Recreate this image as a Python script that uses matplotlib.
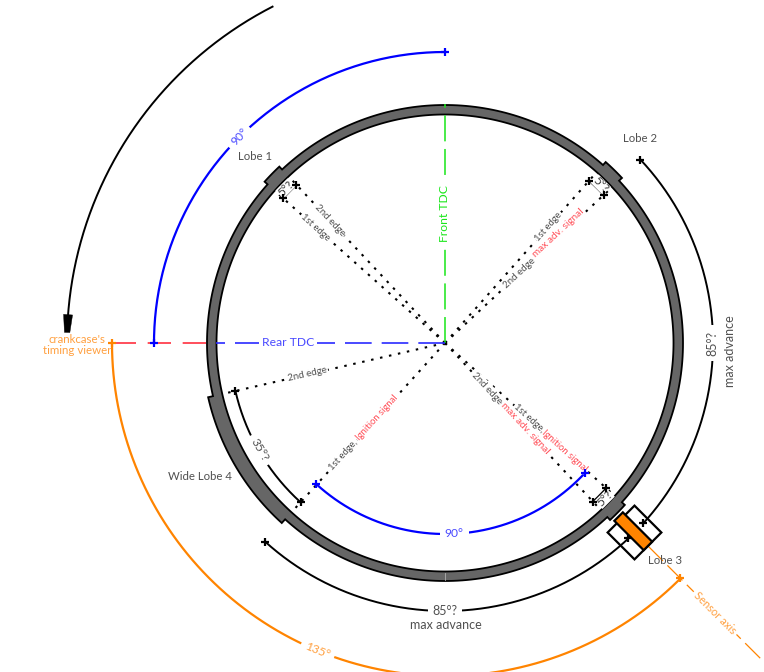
import numpy as np
import matplotlib
matplotlib.use("Agg")
import matplotlib.pyplot as plt
from matplotlib.patches import Polygon

plt.rcParams['font.family'] = ['Lato', 'DejaVu Sans']

# angles in degrees (0 = east, counter clockwise), radii in pixels
lobe1_edges = [133.2, 138.2]
lobe2_edges = [43.0, 48.4]
lobe3_edges = [-47.0, -42.0]
lobe4_edges = [192.9, 227.8]
ring_outer = 238
ring_inner = 228.5
lobe_top = [242, 242, 242, 243]

advance_arcs = [(43.2, -42.3), (227.9, 313.2)]
rotor_90 = (90, 180)
signal_90 = (227.7, 317.1)
viewer_135 = (180, 315)
arrow_arc = (117, 176)

GRAY = '#505050'
BLUE_T = '#4a4aff'
RED = '#ff4f58'
ORANGE = '#ff8400'
ORANGE_T = '#ffa040'
GREEN = '#19e619'
TEXT = 8.7

fig = plt.figure(figsize=(7.64, 6.72), dpi=100)
ax = fig.add_axes([0, 0, 1, 1])
ax.set_xlim(0, 764)
ax.set_ylim(672, 0)
ax.axis('off')

cx, cy = 445, 343


def pol(angle, r):
    a = np.radians(angle)
    return cx + r * np.cos(a), cy - r * np.sin(a)


def arc(a0, a1, r, color='black', lw=1.5, z=3):
    t = np.linspace(a0, a1, 200)
    x, y = pol(t, r)
    ax.plot(x, y, color=color, lw=lw, zorder=z, solid_capstyle='butt')


def ray(angle, r0, r1, color, lw, dash, z=2):
    x, y = pol(np.array([angle, angle]), np.array([r0, r1]))
    ax.plot(x, y, color=color, lw=lw, ls=(0, dash), zorder=z)


def mark(angle, r, color='black'):
    x, y = pol(angle, r)
    ax.plot([x], [y], marker='+', ms=5.5, mew=1.6, color=color, zorder=6)


def label(angle, r, s, color=GRAY, rot=0, size=TEXT, pad=0.25, box=True):
    x, y = pol(angle, r)
    kw = dict(rotation=rot, rotation_mode='anchor', fontsize=size, ha='center', va='center')
    if box:
        # white gap goes below every text so neighbours do not cut each other
        ax.text(x, y, s, color='none', zorder=4,
                bbox=dict(boxstyle='square,pad=%s' % pad, fc='white', ec='none'), **kw)
    ax.text(x, y, s, color=color, zorder=5, **kw)


# ring with the lobes standing out of it
segs = [(lobe2_edges, lobe_top[1]), (lobe1_edges, lobe_top[0]), (lobe4_edges, lobe_top[3]),
        ([a + 360 for a in lobe3_edges], lobe_top[2])]
outline_t = []
outline_r = []
prev = lobe3_edges[1]
for edges, top in segs:
    t = np.linspace(prev, edges[0], 80)
    outline_t += list(t)
    outline_r += [ring_outer] * 80
    t = np.linspace(edges[0], edges[1], 30)
    outline_t += list(t)
    outline_r += [top] * 30
    prev = edges[1]
ox, oy = pol(np.array(outline_t), np.array(outline_r))
ax.add_patch(Polygon(np.column_stack([ox, oy]), closed=True, fc='#666666', ec='black', lw=1.3, zorder=1))
t = np.linspace(0, 360, 400)
ix, iy = pol(t, ring_inner)
ax.add_patch(Polygon(np.column_stack([ix, iy]), closed=True, fc='white', ec='black', lw=1.3, zorder=1.1))
x, y = pol(np.array([270, 270]), np.array([ring_inner + 1, ring_outer - 1]))
ax.plot(x, y, color='#b0b0b0', lw=0.6, zorder=1.2)

# dotted edge lines from the centre
for a in lobe1_edges + lobe2_edges + lobe3_edges + lobe4_edges:
    ray(a, 0, ring_inner, 'black', 1.5, (1.2, 3.2))

# TDC and sensor axes
ray(90, 0, ring_outer + 1, GREEN, 1.1, (17, 5), z=2.5)
ray(180, 0, ring_inner + 1, '#2a2aff', 1.2, (16, 6), z=2.5)
ray(180, ring_outer + 1, 333, '#ff3040', 1.2, (14, 7), z=2.5)
ray(-45, 287, 460, ORANGE, 0.9, (17, 5), z=2.5)

# arcs
arc(rotor_90[0], rotor_90[1], 291, 'blue', 1.6)
arc(signal_90[0], signal_90[1], 191, 'blue', 1.6)
arc(viewer_135[0], viewer_135[1], 333, ORANGE, 1.6)
arc(arrow_arc[0], arrow_arc[1], 378, 'black', 1.4)
for a0, a1 in advance_arcs:
    arc(a0, a1, 268, 'black', 1.4)
arc(lobe4_edges[0], lobe4_edges[1], 215, 'black', 1.4)
arc(lobe1_edges[0], lobe1_edges[1], 217, 'black', 1.4)
arc(lobe2_edges[0], lobe2_edges[1], 217, 'black', 1.4)
arc(lobe3_edges[0], lobe3_edges[1], 217, 'black', 1.4)

# truncated head of the viewer arrow
hx, hy = pol(np.array([175.7, 175.7, 178.4, 178.4]), np.array([373.5, 382.5, 380.7, 375.3]))
ax.add_patch(Polygon(np.column_stack([hx, hy]), closed=True, fc='black', ec='black', lw=0.3, zorder=3))

# end marks
for a in [90, 180]:
    mark(a, 291, 'blue')
for a in signal_90:
    mark(a, 191, 'blue')
mark(180, 333, ORANGE)
mark(-45, 333, ORANGE)
for a in lobe1_edges + lobe2_edges + lobe3_edges:
    mark(a, 217)
for a in lobe4_edges:
    mark(a, 215)
for a0, a1 in advance_arcs:
    mark(a0, 268)
    mark(a1, 268)

# sensor: square body and orange element on the axis
ang = np.radians(-45)
u = np.array([np.cos(ang), -np.sin(ang)])
v = np.array([np.sin(ang), np.cos(ang)])
c = np.array([cx, cy])


def sensor_box(u0, u1, v0, v1, fc, z):
    pts = [c + u * a + v * b for a, b in [(u0, v0), (u1, v0), (u1, v1), (u0, v1)]]
    ax.add_patch(Polygon(pts, closed=True, fc=fc, ec='black', lw=1.6, zorder=z))


sensor_box(249, 287, -19, 19, 'none', 4.5)
sensor_box(245.5, 287, -6, 6, ORANGE, 4.6)

# texts along the rays
label(133.2, 168, '2nd edge', rot=-46.8, size=7.0, pad=0.1)
label(138.2, 174, '1st edge', rot=-41.8, size=6.8, pad=0.1)
label(48.4, 156, '1st edge', rot=48.4, size=6.8, pad=0.1)
label(43, 102, '2nd edge', rot=43, size=7.0, pad=0.1)
label(44, 158, 'max adv. signal', RED, rot=43, size=7.2, pad=0.1)
label(-42, 113, '1st edge,', rot=-42, size=6.8, pad=0.1)
label(-42, 161, 'Ignition signal', RED, rot=-42, size=6.8, pad=0.1)
label(-47, 62, '2nd edge', rot=-47, size=7.0, pad=0.1)
label(-47, 117, 'max adv. signal', RED, rot=-47, size=7.2, pad=0.1)
label(192.9, 141, '2nd edge', rot=12.9, size=7.0, pad=0.1)
label(227.7, 151, '1st edge,', rot=47.7, size=6.8, pad=0.1)
label(227.7, 101, 'Ignition signal', RED, rot=47.7, size=6.8, pad=0.1)

label(135.9, 222, '5°?', '#333333', rot=45, size=8.5, pad=0.02)
label(45.5, 222, '5°?', '#333333', rot=-45, size=8.5, pad=0.02)
label(-44.3, 223, '5°?', '#333333', rot=45, size=8.5, pad=0.02)
label(210, 214, '35°?', rot=-60, pad=0.4)

label(135, 291, '90°', BLUE_T, rot=45, pad=0.4)
label(272.8, 191, '90°', BLUE_T, pad=0.4)
label(247.5, 333, '135°', ORANGE_T, rot=-22.5, pad=0.4)
label(90, 129, 'Front TDC', GREEN, rot=90)
label(180, 157, 'Rear TDC', BLUE_T)
label(-45, 382, 'Sensor axis', ORANGE_T, rot=-45, size=8)

label(0, 267, '85°?', rot=90, size=9, pad=0.45)
label(270, 268, '85°?', size=9, pad=0.35)

ax.text(730.5, 351, 'max advance', color=GRAY, rotation=90, fontsize=9, ha='center', va='center')
ax.text(446, 625, 'max advance', color=GRAY, fontsize=9, ha='center', va='center')
ax.text(255, 157, 'Lobe 1', color=GRAY, fontsize=8.2, ha='center', va='center')
ax.text(640, 139, 'Lobe 2', color=GRAY, fontsize=8.2, ha='center', va='center')
ax.text(665, 561, 'Lobe 3', color=GRAY, fontsize=8.2, ha='center', va='center')
ax.text(200, 476, 'Wide Lobe 4', color=GRAY, fontsize=8.2, ha='center', va='center')
ax.text(77, 345, "crankcase's\ntiming viewer", color=ORANGE_T, fontsize=8.3, ha='center', va='center',
        linespacing=1.0)

fig.savefig('out.png', dpi=100)
